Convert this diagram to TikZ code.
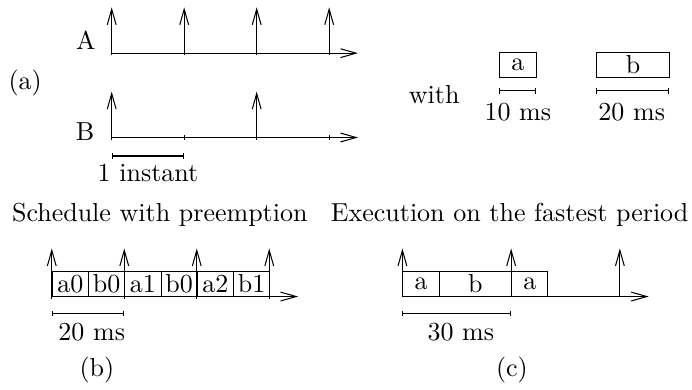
\documentclass[tikz,border=0pt]{standalone}
\usepackage{tikz}
\usetikzlibrary{arrows.meta}
\tikzset{
  >={Straight Barb[length=6pt,width=3.4pt]},
  slot/.style={draw,inner sep=0pt,minimum height=0.33cm,anchor=south west},
  measure/.style={{Bar[width=2.2pt]}-{Bar[width=2.2pt]}},
}

\begin{document}
\begin{tikzpicture}
\path[use as bounding box] (0,0) rectangle (9.355,5.259);
% (a) the two periods
\node (lbla) at (0.34,4.14) {(a)};
\node (nameA) at (1.16,4.72) {A};
\node (nameB) at (1.15,3.48) {B};
\draw[->] (1.51,4.54) -- (4.84,4.54);
\draw[->] (1.51,3.40) -- (4.84,3.40);
\foreach \x in {1.51,2.49,3.47,4.45} {
  \draw (\x,4.51) -- (\x,4.57);
  \draw (\x,3.37) -- (\x,3.43);
  \draw[->] (\x,4.54) -- (\x,5.16);
}
\foreach \x in {1.51,3.47} {
  \draw[->] (\x,3.40) -- (\x,4.02);
}
\draw[measure] (1.51,3.15) -- (2.49,3.15);
\node (instant) at (2.00,2.92) {1 instant};

\node (with) at (5.87,3.98) {with};
\node[slot,minimum width=0.49cm] (boxa) at (6.75,4.21) {a};
\node[slot,minimum width=0.98cm] (boxb) at (8.06,4.21) {b};
\draw[measure] (6.75,4.03) -- (7.24,4.03);
\draw[measure] (8.06,4.03) -- (9.04,4.03);
\node (dura) at (7.00,3.74) {10 ms};
\node (durb) at (8.54,3.74) {20 ms};

% (b) schedule with preemption
\node (titleb) at (2.16,2.35) {Schedule with preemption};
\draw[->] (0.70,1.25) -- (4.03,1.25);
\foreach \lab [count=\i from 0] in {a0,b0,a1,b0,a2,b1} {
  \node[slot,minimum width=0.49cm] (sb\i) at (0.70+0.49*\i,1.25) {\lab};
}
\foreach \x in {0.70,1.68,2.66,3.64} {
  \draw (\x,1.22) -- (\x,1.28);
  \draw[->] (\x,1.25) -- (\x,1.90);
}
\draw[measure] (0.70,1.02) -- (1.68,1.02);
\node (durpre) at (1.24,0.77) {20 ms};
\node (lblb) at (1.31,0.26) {(b)};

% (c) execution on the fastest period
\node (titlec) at (6.89,2.35) {Execution on the fastest period};
\draw[->] (5.44,1.25) -- (8.77,1.25);
\node[slot,minimum width=0.49cm] (sc0) at (5.44,1.25) {a};
\node[slot,minimum width=0.98cm] (sc1) at (5.93,1.25) {b};
\node[slot,minimum width=0.49cm] (sc2) at (6.91,1.25) {a};
\foreach \x in {5.44,6.91,8.38} {
  \draw[->] (\x,1.25) -- (\x,1.90);
}
\draw[measure] (5.44,1.02) -- (6.91,1.02);
\node (durfast) at (6.23,0.77) {30 ms};
\node (lblc) at (6.92,0.26) {(c)};
\end{tikzpicture}
\end{document}
